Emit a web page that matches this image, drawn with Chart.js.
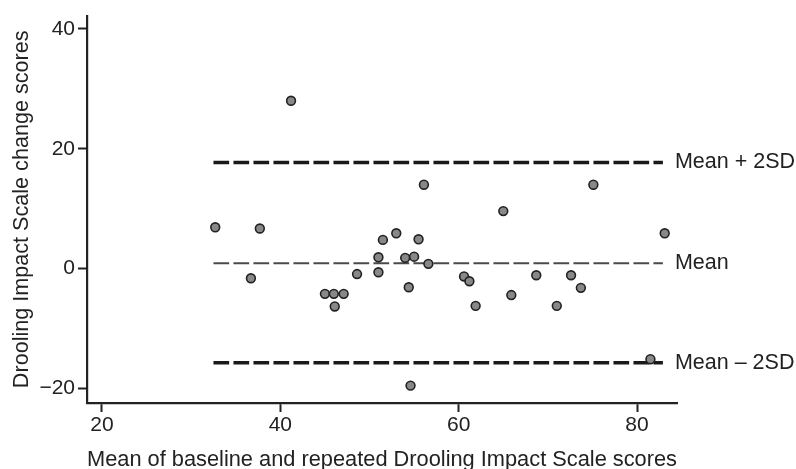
<!DOCTYPE html>
<html><head><meta charset="utf-8">
<script src="https://cdn.jsdelivr.net/npm/chart.js@4.4.0/dist/chart.umd.min.js"></script>
<style>html,body{margin:0;padding:0;background:#fff;}#wrap{width:796px;height:469px;position:relative;}</style>
</head><body><div id="wrap"><canvas id="c" width="796" height="469"></canvas></div>
<script>
// ---- data ----
const meanScores   = [32.7, 37.7, 36.7, 41.2, 45.0, 46.0, 47.1, 46.1, 48.6, 51.0, 51.0, 51.5, 53.0, 54.0, 54.4, 54.6,
                      55.0, 55.5, 56.1, 56.6, 60.6, 61.2, 61.9, 65.0, 65.9, 68.7, 71.0, 72.6, 73.7, 75.1, 81.5, 83.1];
const changeScores = [6.9, 6.7, -1.6, 28.0, -4.2, -4.2, -4.2, -6.3, -0.9, -0.6, 1.9, 4.8, 5.9, 1.8, -3.1, -19.5,
                      2.0, 4.9, 14.0, 0.8, -1.3, -2.1, -6.2, 9.6, -4.4, -1.1, -6.2, -1.1, -3.2, 14.0, -15.1, 5.9];
const xTicks = [20, 40, 60, 80];
const yTicks = [-20, 0, 20, 40];
const refNames  = ["Mean + 2SD", "Mean", "Mean \u2013 2SD"];
const refValues = [17.7, 0.9, -15.7];
const refRange  = [32.5, 82.9];
const xTitle = "Mean of baseline and repeated Drooling Impact Scale scores";
const yTitle = "Drooling Impact Scale change scores";

// ---- styles ----
const INK = '#222222';
const FONT = "'Liberation Sans', Arial, Helvetica, sans-serif";
const refStyle = [
  {w: 3.5, c: '#1a1a1a'},
  {w: 2,   c: '#4a4a4a'},
  {w: 3.5, c: '#1a1a1a'}
];

Chart.defaults.font.family = FONT;
Chart.defaults.color = INK;

const datasets = [{
  type: 'scatter',
  label: 'Scores',
  data: meanScores.map((x, i) => ({x: x, y: changeScores[i]})),
  pointRadius: 4.4,
  pointBackgroundColor: '#888888',
  pointBorderColor: '#222',
  pointBorderWidth: 1.6,
  order: 0
}];
refValues.forEach((v, i) => {
  datasets.push({
    type: 'line',
    label: refNames[i],
    data: refRange.map(x => ({x: x, y: v})),
    borderColor: refStyle[i].c,
    borderWidth: refStyle[i].w,
    borderDash: [15.7, 4.3],
    pointRadius: 0,
    fill: false,
    order: 1
  });
});

const refLabelPlugin = {
  id: 'refLabels',
  afterDatasetsDraw(chart) {
    const {ctx, scales: {x, y}} = chart;
    ctx.save();
    ctx.font = '21.5px ' + FONT;
    ctx.fillStyle = INK;
    ctx.textAlign = 'left';
    ctx.textBaseline = 'middle';
    const px = x.getPixelForValue(refRange[1]) + 12;
    refValues.forEach((v, i) => ctx.fillText(refNames[i], px, y.getPixelForValue(v)));
    ctx.restore();
  }
};

new Chart(document.getElementById('c'), {
  type: 'scatter',
  data: {datasets},
  options: {
    responsive: false,
    animation: false,
    layout: {padding: {left: 0, top: 14, right: 119, bottom: 0}},
    plugins: {legend: {display: false}, tooltip: {enabled: false}},
    scales: {
      x: {
        type: 'linear',
        min: 18.32, max: 84.48,
        afterBuildTicks: s => { s.ticks = xTicks.map(v => ({value: v})); },
        afterFit: s => { s.height = 66; },
        grid: {drawOnChartArea: false, drawTicks: true, tickLength: 9, tickWidth: 2, tickColor: INK},
        border: {display: true, color: INK, width: 2.2},
        ticks: {font: {size: 21}, color: INK, padding: 1, maxRotation: 0},
        title: {display: true, text: xTitle, font: {size: 21.8, lineHeight: 0.8}, color: INK, padding: 0}
      },
      y: {
        type: 'linear',
        min: -22.4, max: 42.2,
        afterBuildTicks: s => { s.ticks = yTicks.map(v => ({value: v})); },
        afterFit: s => { s.width = 87; },
        grid: {drawOnChartArea: false, drawTicks: true, tickLength: 9, tickWidth: 2, tickColor: INK},
        border: {display: true, color: INK, width: 2.2},
        ticks: {font: {size: 21}, color: INK, padding: 3,
                callback: v => String(v).replace('-', '\u2212')},
        title: {display: true, text: yTitle, font: {size: 21.6}, color: INK, padding: {top: 9, bottom: 0}}
      }
    }
  },
  plugins: [refLabelPlugin]
});
</script>
</body></html>
